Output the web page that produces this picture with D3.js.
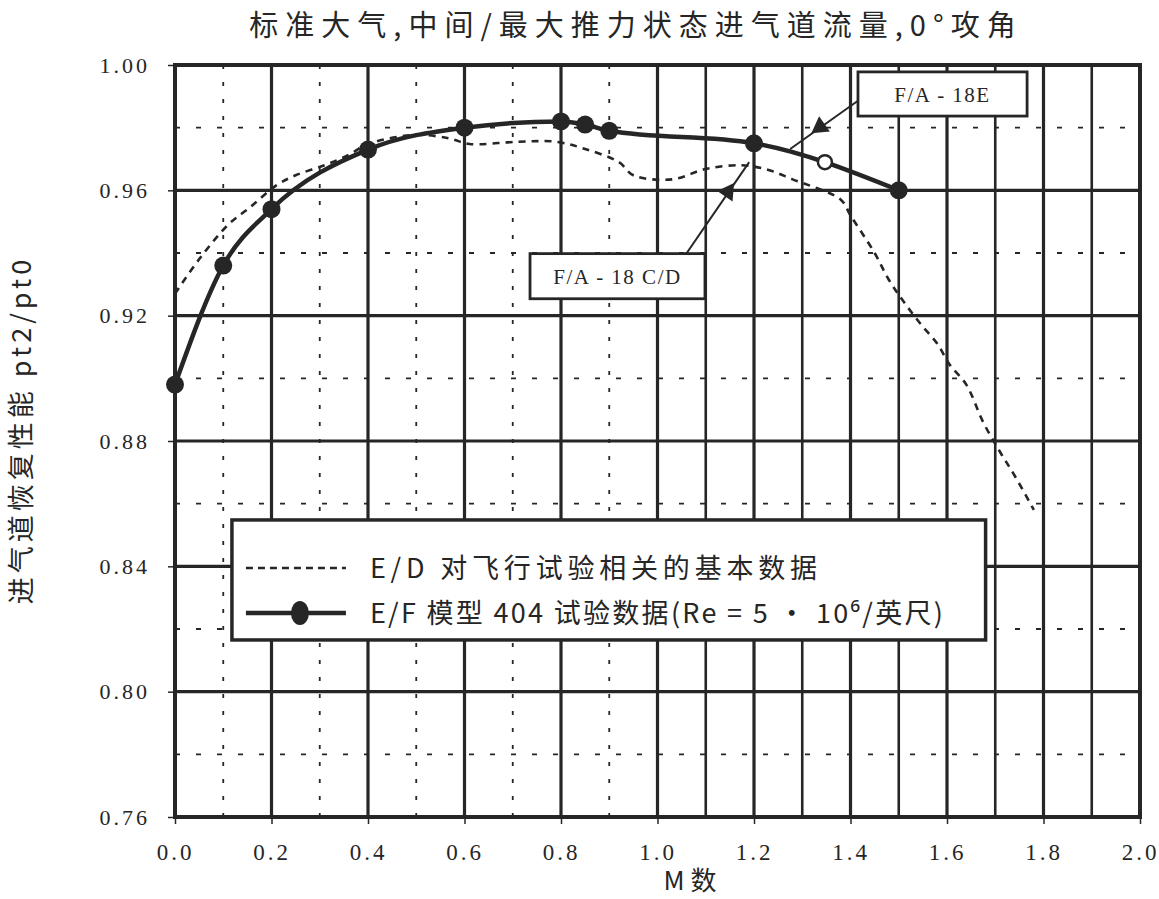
<!DOCTYPE html>
<html>
<head>
<meta charset="utf-8">
<script src="https://cdn.jsdelivr.net/npm/d3@7"></script>
<style>
  html, body { margin: 0; padding: 0; background: #fff; }
  svg { display: block; }
  .serif { font-family: "Liberation Serif", "DejaVu Serif", serif; }
  .cjk { font-family: "Noto Sans CJK SC", "Noto Sans", sans-serif; }
</style>
</head>
<body>
<svg id="chart" width="1159" height="899"></svg>
<script>
// Inlet total-pressure recovery vs Mach number
// E/D baseline correlated with flight test (dashed)
const edMach  = [0.0, 0.05, 0.11, 0.155, 0.21, 0.25, 0.31, 0.36, 0.40, 0.50, 0.57, 0.61, 0.71, 0.79, 0.85, 0.92, 0.95, 1.03, 1.10, 1.175, 1.23, 1.28, 1.38, 1.40, 1.45, 1.48, 1.51, 1.545, 1.58, 1.605, 1.64, 1.675, 1.71, 1.74, 1.78];
const edValue = [0.927, 0.938, 0.949, 0.9545, 0.9616, 0.9648, 0.968, 0.9713, 0.9748, 0.9777, 0.9765, 0.9748, 0.9755, 0.9755, 0.9732, 0.969, 0.9648, 0.9635, 0.9668, 0.968, 0.9665, 0.9635, 0.957, 0.952, 0.940, 0.9313, 0.9245, 0.9174, 0.911, 0.9045, 0.898, 0.886, 0.8765, 0.869, 0.858];

// E/F model 404 test data (solid with markers)
const efMach  = [0.0, 0.1, 0.2, 0.4, 0.6, 0.8, 0.85, 0.9, 1.2, 1.5];
const efValue = [0.898, 0.936, 0.954, 0.973, 0.980, 0.982, 0.981, 0.979, 0.975, 0.960];

// Axis ticks
const xTicks = [0.0, 0.2, 0.4, 0.6, 0.8, 1.0, 1.2, 1.4, 1.6, 1.8, 2.0];
const yTicks = [0.76, 0.80, 0.84, 0.88, 0.92, 0.96, 1.00];

// Texts
const titleText = "标准大气,中间/最大推力状态进气道流量,0°攻角";
const xTitle = "M 数";
const yTitle = "进气道恢复性能 pt2/pt0";
const legendLabels = ["E/D 对飞行试验相关的基本数据", "E/F 模型 404 试验数据(Re = 5 · 10⁶/英尺)"];

// Aircraft callouts, in data units: box corners, flight symbol, leader end on the curve
const calloutNames = ["F/A - 18E", "F/A - 18 C/D"];
const calloutBox   = [[1.4155, 0.9978, 1.766, 0.9837], [0.7358, 0.9398, 1.0984, 0.9254]];
const calloutFrom  = [[1.4155, 0.9886], [1.057, 0.9392]];
const calloutSym   = [[1.337, 0.9802], [1.146, 0.9595]];
const calloutTo    = [[1.275, 0.9732], [1.19, 0.9690]];
const openMark     = [1.347, 0.969];

const ink = "#262626";
const svg = d3.select("#chart");

const x = d3.scaleLinear().domain([0, 2]).range([175, 1140]);
const y = d3.scaleLinear().domain([0.76, 1.00]).range([817, 65]);

// Grid: vertical lines every 0.1 M
const vLines = d3.range(0, 21).map(i => i / 10);
svg.append("g").selectAll("line").data(vLines).join("line")
  .attr("x1", d => x(d)).attr("x2", d => x(d))
  .attr("y1", y(1.0)).attr("y2", y(0.76))
  .attr("stroke", ink)
  .attr("stroke-width", d => {
    const i = Math.round(d * 10);
    return (i % 2 === 0) ? 3.2 : (d >= 1.0 ? 2.6 : 1.8);
  })
  .attr("stroke-dasharray", d => (d < 1.0 && Math.round(d * 10) % 2 === 1) ? "4,13" : null);

// Horizontal lines every 0.02
const hLines = d3.range(0, 13).map(i => 0.76 + i * 0.02);
svg.append("g").selectAll("line").data(hLines).join("line")
  .attr("x1", x(0)).attr("x2", x(2))
  .attr("y1", d => y(d)).attr("y2", d => y(d))
  .attr("stroke", ink)
  .attr("stroke-width", d => (Math.round((d - 0.76) * 50) % 2 === 0) ? 3.2 : 1.8)
  .attr("stroke-dasharray", d => (Math.round((d - 0.76) * 50) % 2 === 0) ? null : "5,16");

// Plot frame
svg.append("rect")
  .attr("x", x(0)).attr("y", y(1.0))
  .attr("width", x(2) - x(0)).attr("height", y(0.76) - y(1.0))
  .attr("fill", "none").attr("stroke", ink).attr("stroke-width", 4);

// Axes
const xAxis = d3.axisBottom(x).tickValues(xTicks).tickFormat(d3.format(".1f")).tickSize(7).tickPadding(20);
const gx = svg.append("g").attr("transform", `translate(0,${y(0.76)})`).call(xAxis);
gx.select(".domain").remove();
gx.selectAll(".tick line").attr("stroke", ink).attr("stroke-width", 1.5);
gx.selectAll(".tick text").attr("class", "serif").attr("fill", ink)
  .style("font-size", "23px").style("letter-spacing", "3px");

const yAxis = d3.axisLeft(y).tickValues(yTicks).tickFormat(d3.format(".2f")).tickSize(7).tickPadding(18);
const gy = svg.append("g").attr("transform", `translate(${x(0)},0)`).call(yAxis);
gy.select(".domain").remove();
gy.selectAll(".tick line").attr("stroke", ink).attr("stroke-width", 1.5);
gy.selectAll(".tick text").attr("class", "serif").attr("fill", ink)
  .style("font-size", "22px").style("letter-spacing", "3px");

// E/D dashed curve
const edLine = d3.line().x(d => x(d[0])).y(d => y(d[1])).curve(d3.curveCatmullRom.alpha(0.5));
svg.append("path")
  .datum(edMach.map((m, i) => [m, edValue[i]]))
  .attr("d", edLine)
  .attr("fill", "none").attr("stroke", ink).attr("stroke-width", 2.6)
  .attr("stroke-dasharray", "7,6");

// E/F solid curve with markers
const efLine = d3.line().x(d => x(d[0])).y(d => y(d[1])).curve(d3.curveMonotoneX);
const efData = efMach.map((m, i) => [m, efValue[i]]);
svg.append("path").datum(efData).attr("d", efLine)
  .attr("fill", "none").attr("stroke", ink).attr("stroke-width", 4.5);
svg.append("g").selectAll("circle").data(efData).join("circle")
  .attr("cx", d => x(d[0])).attr("cy", d => y(d[1])).attr("r", 9)
  .attr("fill", ink);

// Callouts
calloutNames.forEach((name, i) => {
  const b = calloutBox[i];
  svg.append("line")
    .attr("x1", x(calloutFrom[i][0])).attr("y1", y(calloutFrom[i][1]))
    .attr("x2", x(calloutTo[i][0])).attr("y2", y(calloutTo[i][1]))
    .attr("stroke", ink).attr("stroke-width", 2);
  const sx = x(calloutSym[i][0]), sy = y(calloutSym[i][1]);
  const ang = Math.atan2(y(calloutTo[i][1]) - y(calloutFrom[i][1]), x(calloutTo[i][0]) - x(calloutFrom[i][0])) * 180 / Math.PI;
  svg.append("path")
    .attr("d", d3.symbol().type(d3.symbolTriangle).size(150)())
    .attr("transform", `translate(${sx},${sy}) rotate(${ang + 90})`)
    .attr("fill", ink);
  svg.append("rect")
    .attr("x", x(b[0])).attr("y", y(b[1]))
    .attr("width", x(b[2]) - x(b[0])).attr("height", y(b[3]) - y(b[1]))
    .attr("fill", "#fff").attr("stroke", ink).attr("stroke-width", 2.8);
  svg.append("text").attr("class", "serif")
    .attr("x", (x(b[0]) + x(b[2])) / 2).attr("y", (y(b[1]) + y(b[3])) / 2 + 8)
    .attr("text-anchor", "middle").attr("fill", ink)
    .style("font-size", "21px").style("letter-spacing", "1.5px")
    .text(name);
});
svg.append("circle")
  .attr("cx", x(openMark[0])).attr("cy", y(openMark[1])).attr("r", 7)
  .attr("fill", "#fff").attr("stroke", ink).attr("stroke-width", 2.5);

// Legend
const lg = svg.append("g");
const lx0 = x(0.118), lx1 = x(1.68), ly0 = y(0.8548), ly1 = y(0.8165);
lg.append("rect").attr("x", lx0).attr("y", ly0).attr("width", lx1 - lx0).attr("height", ly1 - ly0)
  .attr("fill", "#fff").attr("stroke", ink).attr("stroke-width", 3.5);
const rowY = [ly0 + 48, ly0 + 93];
const rowSpacing = ["4.8px", "2.3px"];
lg.append("line").attr("x1", lx0 + 14).attr("x2", lx0 + 114).attr("y1", rowY[0]).attr("y2", rowY[0])
  .attr("stroke", ink).attr("stroke-width", 2.6).attr("stroke-dasharray", "7,5");
lg.append("line").attr("x1", lx0 + 14).attr("x2", lx0 + 114).attr("y1", rowY[1]).attr("y2", rowY[1])
  .attr("stroke", ink).attr("stroke-width", 4.5);
lg.append("ellipse").attr("cx", lx0 + 68).attr("cy", rowY[1]).attr("rx", 9).attr("ry", 12).attr("fill", ink);
legendLabels.forEach((t, i) => {
  lg.append("text").attr("class", "cjk")
    .attr("x", lx0 + 138).attr("y", rowY[i] + 10)
    .attr("fill", ink).style("font-size", "27px").style("letter-spacing", rowSpacing[i])
    .text(t);
});

// Titles
svg.append("text").attr("class", "cjk")
  .attr("x", 636).attr("y", 36).attr("text-anchor", "middle").attr("fill", ink)
  .style("font-size", "29px").style("letter-spacing", "7px")
  .text(titleText);
svg.append("text").attr("class", "cjk")
  .attr("x", 690).attr("y", 890).attr("text-anchor", "middle").attr("fill", ink)
  .style("font-size", "26px")
  .text(xTitle);
svg.append("text").attr("class", "cjk")
  .attr("transform", "translate(31,430) rotate(-90)")
  .attr("text-anchor", "middle").attr("fill", ink)
  .style("font-size", "27px").style("letter-spacing", "4px")
  .text(yTitle);
</script>
</body>
</html>
